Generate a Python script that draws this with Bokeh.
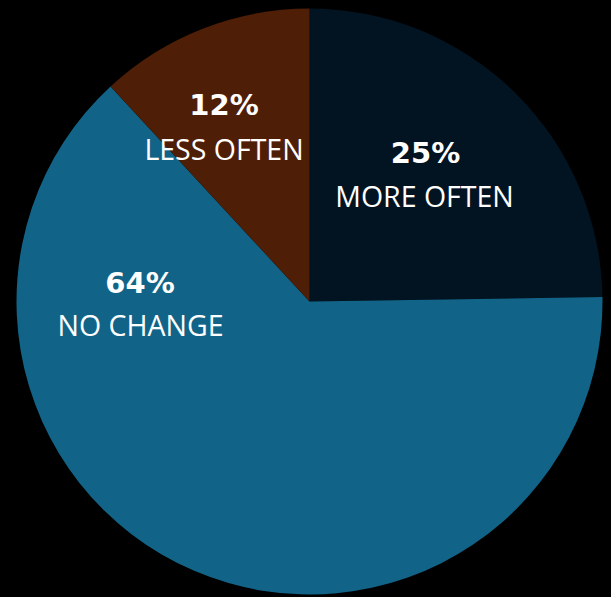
import math
from bokeh.plotting import figure
from bokeh.models import ColumnDataSource
from bokeh.core.properties import value
from bokeh.embed import file_html
from bokeh.resources import INLINE

# ---- data ----
categories = ["MORE OFTEN", "NO CHANGE", "LESS OFTEN"]
percents = [25, 64, 12]
colors = ["#021421", "#116488", "#4f1e07"]

# label anchor positions (figure pixel coords, y up), baseline of text
pct_label_x = [425, 139.5, 223.5]
pct_label_y = [445, 315, 493]
cat_label_x = [424, 140, 223.5]
cat_label_y = [401.5, 272.5, 448.5]

W, H = 611, 597
cx, cy, r = 309, 296, 293

total = sum(percents)
starts, ends = [], []
cum = 0.0
for v in percents:
    a0 = math.pi / 2 - 2 * math.pi * cum / total
    cum += v
    a1 = math.pi / 2 - 2 * math.pi * cum / total
    starts.append(a0)
    ends.append(a1)

src = ColumnDataSource(dict(
    cat=categories, pct=[f"{v}%" for v in percents], color=colors,
    start=starts, end=ends,
    x=[cx] * len(percents), y=[cy] * len(percents),
    px=pct_label_x, py=pct_label_y, qx=cat_label_x, qy=cat_label_y,
))

p = figure(width=W, height=H, x_range=(0, W), y_range=(0, H),
           output_backend="svg", toolbar_location=None, min_border=0)
p.background_fill_color = "#000000"
p.border_fill_color = "#000000"
p.outline_line_color = None
p.axis.visible = False
p.grid.visible = False

p.wedge(x="x", y="y", radius=r, start_angle="start", end_angle="end",
        direction="clock", fill_color="color", line_color=None, source=src)

p.text(x="px", y="py", text="pct", source=src, text_color="#ffffff",
       text_font=value("DejaVu Sans"), text_font_style="bold",
       text_font_size="29px", text_align="center", text_baseline="alphabetic")
p.text(x="qx", y="qy", text="cat", source=src, text_color="#ffffff",
       text_font=value("Open Sans"), text_font_size="28.5px",
       text_align="center", text_baseline="alphabetic")

tmpl = """
{% block preamble %}
<style>html, body { background: #000000; margin: 0; padding: 0; }</style>
{% endblock %}
"""
open("out.html", "w").write(file_html(p, INLINE, template=tmpl))
